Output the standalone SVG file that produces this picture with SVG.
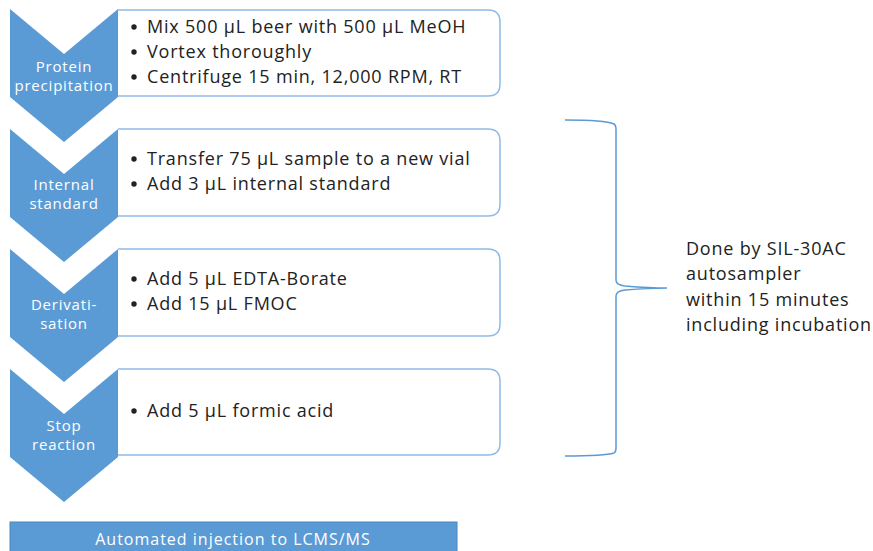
<svg xmlns="http://www.w3.org/2000/svg" width="873" height="551" viewBox="0 0 873 551">
<style>
.chev{fill:#5b9bd5}
.box{fill:#fff;stroke:#8fbbe6;stroke-width:1.5}
.lbl{font-family:"Open Sans","Noto Sans",sans-serif;font-size:15px;fill:#fff;text-anchor:middle;letter-spacing:0.8px}
.bar{font-family:"Open Sans","Noto Sans",sans-serif;font-size:16px;fill:#fff;text-anchor:middle;letter-spacing:1px}
.t{font-family:"Open Sans","Noto Sans",sans-serif;font-size:18px;fill:#222;letter-spacing:0.8px}
.b{fill:#222}
.brace{fill:none;stroke:#5b9bd5;stroke-width:1.5}
</style>
<rect width="873" height="551" fill="#fff"/>
<g id="step1">
<path class="box" d="M118,10 H488 Q500,10 500,22 V84 Q500,96 488,96 H118"/>
<path class="chev" d="M10,9 L64,54 L118,9 L118,97 L64,142 L10,97 Z"/>
<text class="lbl" x="64" y="72">Protein</text>
<text class="lbl" x="64" y="91">precipitation</text>
<circle class="b" cx="134" cy="27" r="2.7"/>
<circle class="b" cx="134" cy="52" r="2.7"/>
<circle class="b" cx="134" cy="77" r="2.7"/>
<text class="t" x="147" y="33">Mix 500 µL beer with 500 µL MeOH</text>
<text class="t" x="147" y="58">Vortex thoroughly</text>
<text class="t" x="147" y="83">Centrifuge 15 min, 12,000 RPM, RT</text>
</g>
<g id="step2">
<path class="box" d="M118,129 H488 Q500,129 500,141 V204 Q500,216 488,216 H118"/>
<path class="chev" d="M10,129 L64,174 L118,129 L118,217 L64,262 L10,217 Z"/>
<text class="lbl" x="64" y="190">Internal</text>
<text class="lbl" x="64" y="209">standard</text>
<circle class="b" cx="134" cy="159" r="2.7"/>
<circle class="b" cx="134" cy="184" r="2.7"/>
<text class="t" x="147" y="165">Transfer 75 µL sample to a new vial</text>
<text class="t" x="147" y="190">Add 3 µL internal standard</text>
</g>
<g id="step3">
<path class="box" d="M118,249 H488 Q500,249 500,261 V324 Q500,336 488,336 H118"/>
<path class="chev" d="M10,249 L64,294 L118,249 L118,337 L64,382 L10,337 Z"/>
<text class="lbl" x="64" y="310">Derivati-</text>
<text class="lbl" x="64" y="329">sation</text>
<circle class="b" cx="134" cy="279" r="2.7"/>
<circle class="b" cx="134" cy="304" r="2.7"/>
<text class="t" x="147" y="285">Add 5 µL EDTA-Borate</text>
<text class="t" x="147" y="310">Add 15 µL FMOC</text>
</g>
<g id="step4">
<path class="box" d="M118,369 H488 Q500,369 500,381 V443 Q500,455 488,455 H118"/>
<path class="chev" d="M10,369 L64,414 L118,369 L118,457 L64,502 L10,457 Z"/>
<text class="lbl" x="64" y="431">Stop</text>
<text class="lbl" x="64" y="450">reaction</text>
<circle class="b" cx="134" cy="411" r="2.7"/>
<text class="t" x="147" y="417">Add 5 µL formic acid</text>
</g>
<g id="injection">
<rect x="10" y="522" width="447" height="30" fill="#5b9bd5" stroke="#4a86bf" stroke-width="1"/>
<text class="bar" x="233" y="545">Automated injection to LCMS/MS</text>
</g>
<g id="connectors">
<path class="brace" d="M565,120 Q605,120 614,124 Q616,125 616,130 V280 Q616,285 625,286 Q650,288 667,288 Q650,288 625,290 Q616,291 616,296 V448 Q616,452 614,453 Q605,456 565,456"/>
</g>
<g id="note">
<text class="t" x="686" y="255">Done by SIL-30AC</text>
<text class="t" x="686" y="280">autosampler</text>
<text class="t" x="686" y="306">within 15 minutes</text>
<text class="t" x="686" y="331">including incubation</text>
</g>
</svg>
